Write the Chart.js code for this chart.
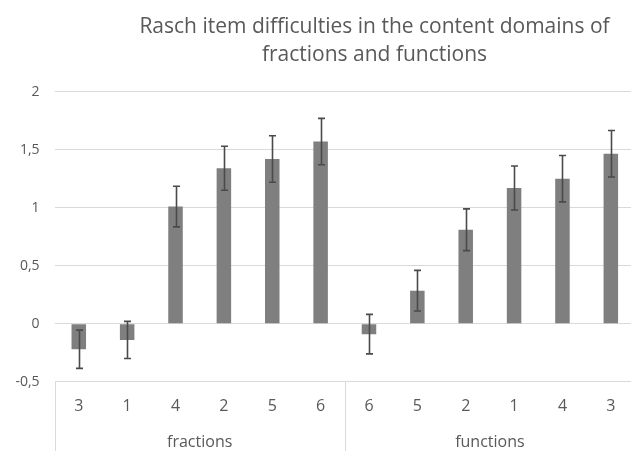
<!DOCTYPE html>
<html>
<head>
<meta charset="utf-8">
<script src="https://cdn.jsdelivr.net/npm/chart.js@4/dist/chart.umd.min.js"></script>
<style>
  html, body { margin: 0; padding: 0; background: #ffffff; overflow: hidden; width: 631px; height: 451px; }
  canvas { display: block; }
</style>
</head>
<body>
<canvas id="c" width="749" height="451"></canvas>
<script>
const titleLines = ['Rasch item difficulties in the content domains of', 'fractions and functions'];
const groups = ['fractions', 'functions'];
const itemLabels = ['3', '1', '4', '2', '5', '6', '6', '5', '2', '1', '4', '3'];
const difficulties = [-0.22, -0.14, 1.01, 1.34, 1.42, 1.57, -0.09, 0.285, 0.81, 1.17, 1.25, 1.465];
const errors = [0.165, 0.16, 0.175, 0.19, 0.2, 0.2, 0.17, 0.175, 0.18, 0.19, 0.2, 0.2];
const itemsPerGroup = 6;
const yMin = -0.5, yMax = 2, yStep = 0.5;

const FONT = 'Open Sans';
const TEXT = '#595959';
const GRID = '#d9d9d9';

const errorBarPlugin = {
  id: 'errorBars',
  afterDatasetsDraw(chart) {
    const ctx = chart.ctx;
    const y = chart.scales.y;
    chart.data.datasets.forEach((ds, di) => {
      const meta = chart.getDatasetMeta(di);
      if (!ds.errors) return;
      ctx.save();
      ctx.strokeStyle = '#4a4a4a';
      ctx.lineWidth = 1.6;
      meta.data.forEach((bar, i) => {
        const v = ds.data[i], e = ds.errors[i];
        const x = Math.round(bar.x) + 0.5;
        const yTop = y.getPixelForValue(v + e);
        const yBot = y.getPixelForValue(v - e);
        const cap = 3.5;
        ctx.beginPath();
        ctx.moveTo(x, yTop); ctx.lineTo(x, yBot);
        ctx.moveTo(x - cap, yTop); ctx.lineTo(x + cap, yTop);
        ctx.moveTo(x - cap, yBot); ctx.lineTo(x + cap, yBot);
        ctx.stroke();
      });
      ctx.restore();
    });
  }
};

const groupLinesPlugin = {
  id: 'groupLines',
  afterDraw(chart) {
    const ctx = chart.ctx;
    const xs = chart.scales.x;
    const top = chart.chartArea.bottom;
    const bottom = chart.height;
    const xsPos = [xs.left];
    for (let g = 1; g < groups.length; g++) {
      const idx = g * itemsPerGroup;
      xsPos.push((xs.getPixelForValue(idx - 1) + xs.getPixelForValue(idx)) / 2);
    }
    xsPos.push(xs.right);
    ctx.save();
    ctx.strokeStyle = GRID;
    ctx.lineWidth = 1;
    xsPos.forEach(px => {
      const x = Math.round(px) + 0.5;
      ctx.beginPath();
      ctx.moveTo(x, top);
      ctx.lineTo(x, bottom);
      ctx.stroke();
    });
    ctx.restore();
  }
};

new Chart(document.getElementById('c'), {
  type: 'bar',
  data: {
    labels: itemLabels,
    datasets: [{
      data: difficulties,
      errors: errors,
      backgroundColor: '#7f7f7f',
      borderWidth: 0,
      barPercentage: 0.3,
      categoryPercentage: 1.0
    }]
  },
  options: {
    responsive: false,
    animation: false,
    devicePixelRatio: 1,
    layout: { padding: { left: 0, right: 0, top: 12.5, bottom: 0 } },
    plugins: {
      legend: { display: false },
      tooltip: { enabled: false },
      title: {
        display: true,
        text: titleLines,
        color: TEXT,
        font: { family: FONT, size: 21, weight: 'normal', lineHeight: 1.35 },
        padding: { top: 0, bottom: 22.5 }
      }
    },
    scales: {
      y: {
        min: yMin, max: yMax,
        ticks: {
          stepSize: yStep,
          color: TEXT,
          font: { family: FONT, size: 14 },
          padding: 15,
          callback: v => String(v).replace('.', ',')
        },
        grid: { color: GRID, lineWidth: 1, drawTicks: false },
        border: { display: false },
        afterFit: s => { s.width = 54.6; }
      },
      yR: {
        type: 'linear',
        position: 'right',
        ticks: { display: false },
        grid: { display: false },
        border: { display: false },
        afterFit: s => { s.width = 114; }
      },
      x: {
        position: 'bottom',
        ticks: { color: TEXT, font: { family: FONT, size: 16 }, padding: 7, maxRotation: 0, autoSkip: false },
        grid: { display: false },
        border: { display: false },
        afterFit: s => { s.height = 41; }
      },
      x2: {
        type: 'category',
        position: 'bottom',
        labels: groups,
        offset: true,
        ticks: { color: TEXT, font: { family: FONT, size: 16 }, padding: 2 },
        grid: { display: false },
        border: { display: false },
        afterFit: s => { s.height = 28.3; }
      }
    }
  },
  plugins: [errorBarPlugin, groupLinesPlugin]
});
</script>
</body>
</html>
